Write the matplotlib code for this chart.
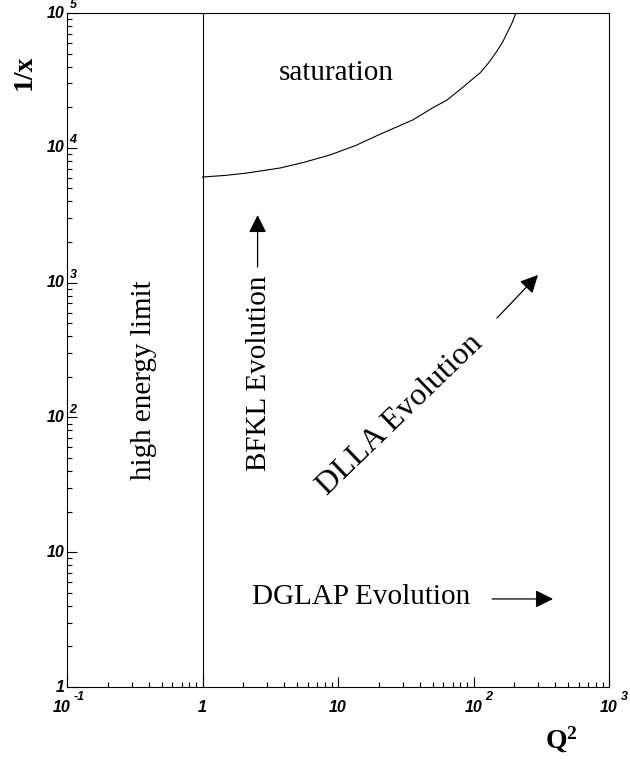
import numpy as np
import matplotlib
matplotlib.use('Agg')
import matplotlib.pyplot as plt
from matplotlib.transforms import offset_copy

# ---- data ----
q2_sat = [1, 1.5, 2.13, 3.73, 5.6, 8.73, 13.5, 20.4, 35.7, 50.0, 63.7, 83.8, 100, 112, 130, 149, 165, 177, 192, 206]
invx_sat = [6070, 6250, 6500, 7080, 7800, 8850, 10400, 12600, 16100, 19800, 22600, 28200, 32800, 36000, 43000, 52200, 61500, 71100, 84000, 100000]

q2_limit = [1, 1]
invx_limit = [1, 1e5]

x_ticks = [0.1, 1, 10, 100, 1000]
x_tick_base = ['10', '1', '10', '10', '10']
x_tick_exp = ['-1', '', '', '2', '3']
y_ticks = [1, 10, 100, 1000, 1e4, 1e5]
y_tick_base = ['1', '10', '10', '10', '10', '10']
y_tick_exp = ['', '', '2', '3', '4', '5']

region_labels = ['saturation', 'high energy limit', 'BFKL Evolution',
                 'DLLA Evolution', 'DGLAP Evolution']
region_q2 = [9.7, 0.37, 2.61, 28.7, 14.8]
region_invx = [35900, 189, 213, 104, 4.65]
region_rot = [0, 90, 90, 44, 0]

arrow_start_q2 = [2.55, 149, 137]
arrow_start_invx = [1306, 546, 4.5]
arrow_end_q2 = [2.55, 299, 386]
arrow_end_invx = [3170, 1138, 4.5]

# ---- figure ----
plt.rcParams['mathtext.fontset'] = 'custom'
plt.rcParams['mathtext.bf'] = 'Liberation Serif:bold'
plt.rcParams['mathtext.rm'] = 'Liberation Serif'

fig = plt.figure(figsize=(6.3, 7.59), dpi=100)
ax = fig.add_axes([67/630, (759-687)/759, 542/630, 674/759])
ax.set_xscale('log')
ax.set_yscale('log')
ax.set_xlim(0.1, 1000)
ax.set_ylim(1, 1e5)

for s in ax.spines.values():
    s.set_linewidth(0.8)
    s.set_color('black')

ax.tick_params(which='both', direction='in', top=False, right=False,
               labelbottom=False, labelleft=False, width=0.8)
ax.tick_params(which='major', length=7.5)
ax.tick_params(which='minor', length=3.8)
ax.set_xticks(x_ticks)
ax.set_yticks(y_ticks)
ax.xaxis.set_minor_locator(matplotlib.ticker.LogLocator(base=10, subs=np.arange(2, 10)))
ax.yaxis.set_minor_locator(matplotlib.ticker.LogLocator(base=10, subs=np.arange(2, 10)))

tick_font = dict(family='Liberation Sans', weight='bold', style='italic')
pt = 72 / 100.0  # points per pixel

# y tick labels
ytr = ax.get_yaxis_transform()
for v, b, e in zip(y_ticks, y_tick_base, y_tick_exp):
    tb = offset_copy(ytr, fig=fig, x=-2.5 * pt, y=0, units='points')
    ax.text(0, v, b, transform=tb, ha='right', va='center', fontsize=11.5, **tick_font)
    if e:
        te = offset_copy(ytr, fig=fig, x=2.5 * pt, y=7.5 * pt, units='points')
        ax.text(0, v, e, transform=te, ha='left', va='center', fontsize=9, **tick_font)

# x tick labels
xtr = ax.get_xaxis_transform()
for v, b, e in zip(x_ticks, x_tick_base, x_tick_exp):
    dx = -5.5 if e.startswith('-') else 0
    tb = offset_copy(xtr, fig=fig, x=dx * pt, y=-20 * pt, units='points')
    ax.text(v, 0, b, transform=tb, ha='center', va='center', fontsize=11.5, **tick_font)
    if e:
        te = offset_copy(xtr, fig=fig, x=(dx + 12) * pt, y=-9.5 * pt, units='points')
        ax.text(v, 0, e, transform=te, ha='left', va='center', fontsize=9, **tick_font)

# axis titles
ax.text(-0.079, 0.912, '1/x', transform=ax.transAxes, rotation=90,
        ha='center', va='center', fontsize=20, family='Liberation Serif', weight='bold')
ax.text(0.913, -0.079, r'$\mathbf{Q^2}$', transform=ax.transAxes,
        ha='center', va='center', fontsize=20)

# lines
ax.plot(q2_limit, invx_limit, color='black', lw=0.8)
ax.plot(q2_sat, invx_sat, color='black', lw=0.8)

# region labels
for lab, xq, yv, r in zip(region_labels, region_q2, region_invx, region_rot):
    fs = 23 if lab.startswith('DLLA') else 21
    ax.text(xq, yv, lab, rotation=r, ha='center', va='center', fontsize=fs,
            family='Liberation Serif', rotation_mode='anchor' if r not in (0, 90) else 'default')

# arrows
for x0, y0, x1, y1 in zip(arrow_start_q2, arrow_start_invx, arrow_end_q2, arrow_end_invx):
    ax.annotate('', xy=(x1, y1), xytext=(x0, y0),
                arrowprops=dict(arrowstyle='-|>,head_length=0.54,head_width=0.27',
                                mutation_scale=20, color='black', lw=0.9,
                                shrinkA=0, shrinkB=0))

fig.savefig('out.png', dpi=100)
